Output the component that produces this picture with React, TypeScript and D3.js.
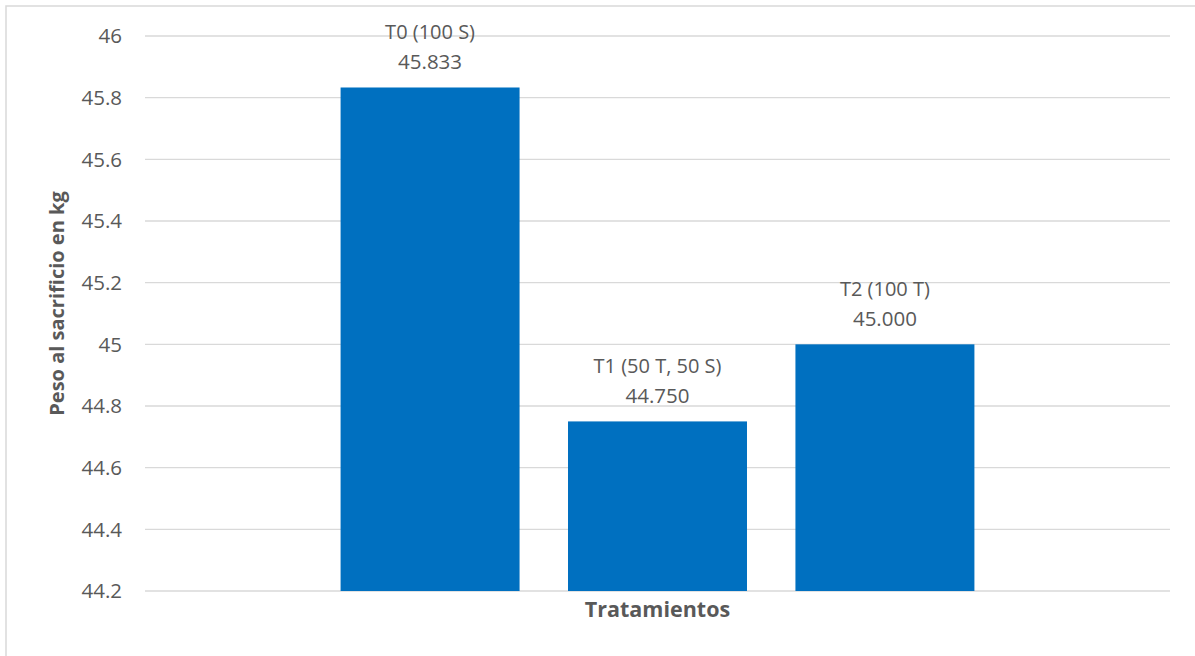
import React from "react";
import * as d3 from "d3";

// Weight at slaughter per treatment (kg)
const treatments = ["T0 (100 S)", "T1 (50 T, 50 S)", "T2 (100 T)"];
const weights = [45.833, 44.75, 45.0];
const yTicks = [44.2, 44.4, 44.6, 44.8, 45, 45.2, 45.4, 45.6, 45.8, 46];

const W = 1195;
const H = 656;
const plot = { left: 145, right: 1170, top: 36, bottom: 591 };
const FONT = "'Open Sans', 'Liberation Sans', sans-serif";
const TEXT = "#595959";
const BAR = "#0070C0";
const GRID = "#d9d9d9";

export default function App() {
  const y = d3.scaleLinear().domain([44.2, 46]).range([plot.bottom, plot.top]);
  const x = d3
    .scaleBand<string>()
    .domain(treatments)
    .range([plot.left, plot.right])
    .paddingInner(0.213)
    .paddingOuter(0.86);

  return (
    <svg
      width={W}
      height={H}
      style={{ position: "absolute", left: 0, top: 0, background: "#fff" }}
      fontFamily={FONT}
    >
      <rect x={6} y={6} width={W + 10} height={H + 10} fill="#fff" stroke={GRID} strokeWidth={1.5} />

      {yTicks.map((t) => (
        <g key={t}>
          <line x1={plot.left} x2={plot.right} y1={y(t)} y2={y(t)} stroke={GRID} strokeWidth={1.4} />
          <text
            x={122}
            y={y(t)}
            dy="0.35em"
            textAnchor="end"
            fontSize={20.5}
            fill={TEXT}
          >
            {d3.format("")(+t.toFixed(1))}
          </text>
        </g>
      ))}

      {treatments.map((name, i) => {
        const v = weights[i];
        const x0 = x(name)!;
        const cx = x0 + x.bandwidth() / 2;
        const top = y(v);
        return (
          <g key={name}>
            <rect x={x0} y={top} width={x.bandwidth()} height={plot.bottom - top} fill={BAR} />
            <text x={cx} y={top - 48} textAnchor="middle" fontSize={20} fill={TEXT}>
              {name}
            </text>
            <text x={cx} y={top - 18} textAnchor="middle" fontSize={20.5} fill={TEXT}>
              {d3.format(".3f")(v)}
            </text>
          </g>
        );
      })}

      <text
        x={(plot.left + plot.right) / 2}
        y={617}
        textAnchor="middle"
        fontSize={21.5}
        fontWeight="bold"
        fill={TEXT}
      >
        Tratamientos
      </text>
      <text
        transform={`translate(64, ${(plot.top + plot.bottom) / 2 - 10}) rotate(-90)`}
        textAnchor="middle"
        fontSize={20}
        fontWeight="bold"
        fill={TEXT}
      >
        Peso al sacrificio en kg
      </text>
    </svg>
  );
}
